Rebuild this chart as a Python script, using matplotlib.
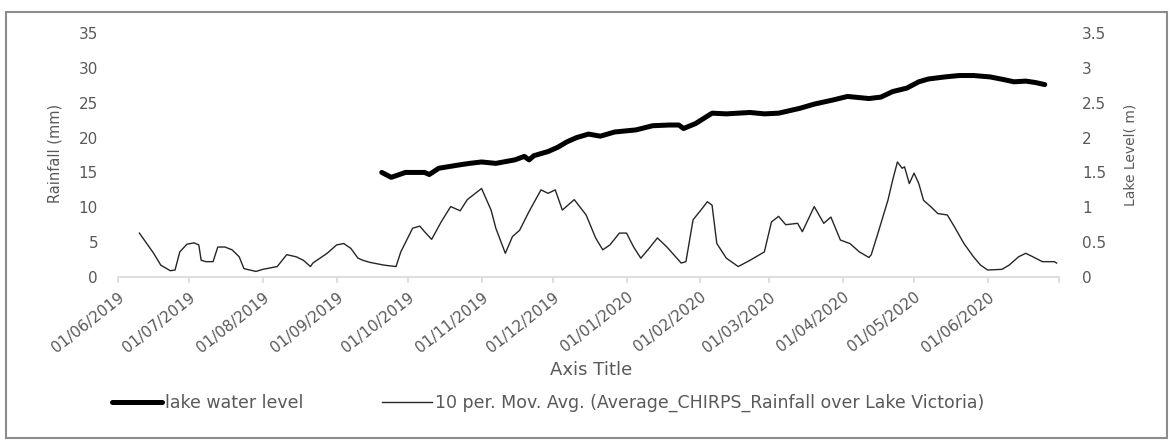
import matplotlib.pyplot as plt
import pandas as pd
from matplotlib.patches import Rectangle

# 10 day moving average of CHIRPS rainfall (mm)
rain_dates = [
    "2019-06-10", "2019-06-16", "2019-06-19", "2019-06-23", "2019-06-25", "2019-06-27",
    "2019-06-30", "2019-07-03", "2019-07-05", "2019-07-06", "2019-07-08", "2019-07-11",
    "2019-07-13", "2019-07-16", "2019-07-19", "2019-07-22", "2019-07-24", "2019-07-29",
    "2019-08-01", "2019-08-07", "2019-08-11", "2019-08-15", "2019-08-18", "2019-08-21",
    "2019-08-22", "2019-08-28", "2019-09-01", "2019-09-04", "2019-09-07", "2019-09-10",
    "2019-09-12", "2019-09-15", "2019-09-21", "2019-09-26", "2019-09-28", "2019-10-03",
    "2019-10-06", "2019-10-08", "2019-10-11", "2019-10-15", "2019-10-19", "2019-10-23",
    "2019-10-26", "2019-11-01", "2019-11-05", "2019-11-07", "2019-11-11", "2019-11-14",
    "2019-11-17", "2019-11-21", "2019-11-26", "2019-11-29", "2019-12-02", "2019-12-05",
    "2019-12-10", "2019-12-15", "2019-12-19", "2019-12-22", "2019-12-25", "2019-12-29",
    "2020-01-01", "2020-01-04", "2020-01-07", "2020-01-10", "2020-01-14", "2020-01-18",
    "2020-01-24", "2020-01-26", "2020-01-29", "2020-02-02", "2020-02-04", "2020-02-06",
    "2020-02-08", "2020-02-12", "2020-02-17", "2020-02-22", "2020-02-28", "2020-03-02",
    "2020-03-05", "2020-03-08", "2020-03-13", "2020-03-15", "2020-03-20", "2020-03-24",
    "2020-03-27", "2020-03-31", "2020-04-04", "2020-04-08", "2020-04-12", "2020-04-13",
    "2020-04-16", "2020-04-20", "2020-04-22", "2020-04-24", "2020-04-26", "2020-04-27",
    "2020-04-29", "2020-05-01", "2020-05-03", "2020-05-05", "2020-05-08", "2020-05-11",
    "2020-05-15", "2020-05-18", "2020-05-22", "2020-05-26", "2020-05-29", "2020-06-01",
    "2020-06-07", "2020-06-10", "2020-06-14", "2020-06-17", "2020-06-20", "2020-06-24",
    "2020-06-26", "2020-06-29", "2020-06-30",
]
rain_mm = [
    6.3, 3.4, 1.7, 0.9, 1.0, 3.6,
    4.7, 4.9, 4.6, 2.4, 2.2, 2.2,
    4.3, 4.3, 3.9, 2.9, 1.2, 0.8,
    1.1, 1.5, 3.2, 2.9, 2.4, 1.5,
    2.0, 3.4, 4.6, 4.8, 4.1, 2.7,
    2.4, 2.1, 1.7, 1.5, 3.6, 7.0,
    7.3, 6.5, 5.4, 7.9, 10.1, 9.5,
    11.1, 12.7, 9.6, 7.0, 3.4, 5.8,
    6.7, 9.4, 12.5, 12.0, 12.5, 9.6,
    11.1, 8.9, 5.6, 3.9, 4.6, 6.3,
    6.3, 4.3, 2.7, 3.9, 5.6, 4.3,
    2.0, 2.2, 8.2, 9.9, 10.8, 10.3,
    4.8, 2.7, 1.5, 2.4, 3.6, 7.9,
    8.7, 7.5, 7.7, 6.5, 10.1, 7.7,
    8.6, 5.3, 4.8, 3.6, 2.8, 3.2,
    6.5, 11.0, 13.9, 16.5, 15.6, 15.8,
    13.4, 14.9, 13.4, 11.0, 10.1, 9.1,
    8.9, 7.2, 4.8, 2.9, 1.7, 1.0,
    1.1, 1.7, 2.9, 3.4, 2.9, 2.2,
    2.2, 2.2, 2.0,
]

# lake water level (m)
lake_dates = [
    "2019-09-20", "2019-09-24", "2019-09-30", "2019-10-08", "2019-10-10", "2019-10-14",
    "2019-10-23", "2019-10-27", "2019-11-01", "2019-11-07", "2019-11-15", "2019-11-19",
    "2019-11-21", "2019-11-23", "2019-11-29", "2019-12-03", "2019-12-07", "2019-12-11",
    "2019-12-16", "2019-12-21", "2019-12-27", "2020-01-05", "2020-01-12", "2020-01-19",
    "2020-01-23", "2020-01-25", "2020-01-30", "2020-02-06", "2020-02-12", "2020-02-22",
    "2020-02-28", "2020-03-05", "2020-03-14", "2020-03-20", "2020-03-28", "2020-04-03",
    "2020-04-12", "2020-04-17", "2020-04-22", "2020-04-28", "2020-05-03", "2020-05-07",
    "2020-05-14", "2020-05-20", "2020-05-26", "2020-06-02", "2020-06-08", "2020-06-12",
    "2020-06-17", "2020-06-21", "2020-06-25",
]
lake_m = [
    1.50, 1.43, 1.50, 1.50, 1.47, 1.56,
    1.61, 1.63, 1.65, 1.63, 1.68, 1.73,
    1.68, 1.74, 1.80, 1.86, 1.94, 2.00,
    2.05, 2.02, 2.08, 2.11, 2.17, 2.18,
    2.18, 2.13, 2.20, 2.35, 2.34, 2.36,
    2.34, 2.35, 2.42, 2.48, 2.54, 2.59,
    2.56, 2.58, 2.66, 2.71, 2.80, 2.84,
    2.87, 2.89, 2.89, 2.87, 2.83, 2.80,
    2.81, 2.79, 2.76,
]

month_ticks = pd.date_range("2019-06-01", "2020-07-01", freq="MS")
tick_labels = [d.strftime("%d/%m/%Y") for d in month_ticks[:-1]] + [""]

grey = "#595959"
axis_grey = "#d9d9d9"

fig = plt.figure(figsize=(11.71, 4.42), dpi=100)
ax = fig.add_axes([118 / 1171, 1 - 277 / 442, (1059 - 118) / 1171, (277 - 33) / 442])
ax2 = ax.twinx()

rain_line, = ax.plot(pd.to_datetime(rain_dates), rain_mm, color="#262626", lw=1.0,
                     label="10 per. Mov. Avg. (Average_CHIRPS_Rainfall over Lake Victoria)")
lake_line, = ax2.plot(pd.to_datetime(lake_dates), lake_m, color="black", lw=3.6,
                      solid_capstyle="round", label="lake water level")

ax.set_xlim(month_ticks[0], month_ticks[-1])
ax.set_ylim(0, 35)
ax2.set_ylim(0, 3.5)
ax.set_yticks(range(0, 36, 5))
ax2.set_yticks([i * 0.5 for i in range(8)])
ax2.set_yticklabels(["0", "0.5", "1", "1.5", "2", "2.5", "3", "3.5"])

ax.set_xticks(month_ticks)
ax.set_xticklabels(tick_labels, rotation=38, ha="right", va="top",
                   rotation_mode="anchor", fontsize=11, color=grey)

for a in (ax, ax2):
    for side in ("top", "left", "right", "bottom"):
        a.spines[side].set_visible(False)
ax.spines["bottom"].set_visible(True)
ax.spines["bottom"].set_color(axis_grey)
ax.spines["bottom"].set_linewidth(1.2)

ax.tick_params(axis="x", length=4, width=1.2, color=axis_grey, pad=5)
ax.tick_params(axis="y", length=0, pad=14.4, labelsize=11, labelcolor=grey)
ax2.tick_params(axis="y", length=0, pad=16.6, labelsize=11, labelcolor=grey)

fig.text(55 / 1171, 1 - 153 / 442, "Rainfall (mm)", rotation=90, ha="center", va="center",
         fontsize=10.5, color=grey)
fig.text(1130 / 1171, 1 - 155 / 442, "Lake Level( m)", rotation=90, ha="center", va="center",
         fontsize=10, color=grey)
fig.text(591 / 1171, 1 - 370 / 442, "Axis Title", ha="center", va="center",
         fontsize=13, color=grey)

fig.legend(handles=[lake_line, rain_line], loc="center",
           bbox_to_anchor=(548 / 1171, 1 - 403 / 442), ncol=2, frameon=False,
           fontsize=12.5, labelcolor=grey, handlelength=2.9, handletextpad=0.17,
           columnspacing=4.5)

# chart frame
fig.patches.append(Rectangle((6 / 1171, 1 - 438 / 442), (1167 - 6) / 1171, (438 - 12) / 442,
                             transform=fig.transFigure, fill=False,
                             edgecolor="#8c8c8c", lw=1.5))

fig.savefig("out.png", dpi=100)
